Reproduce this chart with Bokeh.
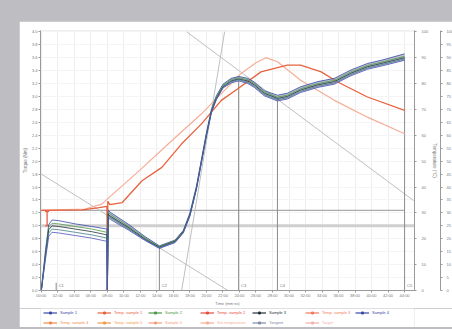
from bokeh.plotting import figure
from bokeh.layouts import column
from bokeh.models import Range1d, LinearAxis, FixedTicker, Legend, LegendItem, PrintfTickFormatter
from bokeh.core.properties import value
from bokeh.embed import file_html
from bokeh.resources import INLINE

# ---------------- data ----------------
time_min = [0, 0.5, 0.9, 1.3, 2.1, 4.1, 6.1, 7.95, 8.0, 8.1, 8.35, 10.6, 12.6, 14.3, 16.2, 17.2,
            18.0, 18.8, 19.4, 20.0, 20.6, 21.2, 22.0, 23.0, 23.9, 25.0, 25.8, 27.0, 28.6, 29.8,
            31.4, 33.5, 35.5, 37.5, 39.5, 41.5, 44.0]
torque_s1 = [0, 0.62, 1.02, 1.09, 1.08, 1.03, 0.99, 0.95, 0, 1.24, 1.21, 1.02, 0.83, 0.69, 0.78, 0.93,
             1.20, 1.62, 2.03, 2.44, 2.80, 3.01, 3.19, 3.28, 3.31, 3.28, 3.22, 3.09, 3.02, 3.05,
             3.15, 3.23, 3.28, 3.41, 3.51, 3.57, 3.66]
torque_s2 = [0, 0.58, 0.98, 1.04, 1.03, 0.99, 0.95, 0.90, 0, 1.21, 1.18, 0.99, 0.81, 0.68, 0.77, 0.92,
             1.18, 1.60, 2.01, 2.42, 2.78, 2.99, 3.17, 3.26, 3.29, 3.26, 3.20, 3.07, 2.99, 3.02,
             3.12, 3.20, 3.25, 3.38, 3.48, 3.54, 3.62]
torque_s3 = [0, 0.55, 0.94, 1.00, 0.99, 0.95, 0.91, 0.86, 0, 1.18, 1.15, 0.97, 0.79, 0.67, 0.76, 0.91,
             1.17, 1.59, 2.00, 2.41, 2.77, 2.97, 3.15, 3.24, 3.27, 3.24, 3.18, 3.05, 2.97, 3.00,
             3.10, 3.18, 3.23, 3.36, 3.46, 3.52, 3.60]
torque_s4 = [0, 0.52, 0.89, 0.95, 0.94, 0.90, 0.86, 0.81, 0, 1.15, 1.13, 0.95, 0.78, 0.66, 0.75, 0.90,
             1.16, 1.58, 1.99, 2.40, 2.76, 2.96, 3.14, 3.23, 3.26, 3.22, 3.16, 3.03, 2.95, 2.98,
             3.08, 3.16, 3.21, 3.34, 3.44, 3.50, 3.58]
torque_s5 = [0, 0.48, 0.84, 0.90, 0.89, 0.85, 0.81, 0.76, 0, 1.12, 1.10, 0.93, 0.77, 0.65, 0.74, 0.89,
             1.15, 1.57, 1.98, 2.39, 2.75, 2.95, 3.13, 3.21, 3.24, 3.20, 3.14, 3.01, 2.93, 2.96,
             3.06, 3.14, 3.19, 3.32, 3.42, 3.48, 3.56]

temp_time = [0, 5.0, 7.0, 7.95, 8.0, 8.05, 8.3, 9.8, 12.2, 14.6, 17.0, 19.4, 21.8, 23.8, 26.6,
             29.8, 31.4, 33.9, 35.9, 39.5, 44.0]
temp_dough = [31.0, 31.2, 32.0, 32.5, 0, 34.5, 33.2, 34.0, 42.4, 47.6, 56.7, 64.4, 73.5, 78.0, 84.5,
              87.1, 87.1, 84.5, 80.6, 74.8, 69.6]

set_time = [0, 5.3, 7.3, 11.4, 15.4, 19.4, 21.8, 24.2, 26.0, 27.2, 28.6, 31.4, 35.5, 39.5, 44.0]
set_temp = [31.0, 31.5, 33.4, 45.0, 56.7, 68.3, 76.1, 83.9, 88.0, 90.0, 88.4, 81.3, 73.5, 67.0, 60.6]

# tangent lines (time, torque) pairs
tangent1_t = [0.0, 22.6]
tangent1_v = [1.80, 0.0]
tangent2_t = [17.6, 45.1]
tangent2_v = [4.0, 1.39]
tangent3_t = [22.2, 17.0]
tangent3_v = [4.0, 0.0]

target_line = 1.24
target_band = 1.00

point_names = ["C1", "C2", "C3", "C4", "C5"]
point_time = [1.8, 14.3, 23.9, 28.6, 44.0]
point_torque = [0.12, 0.67, 3.28, 2.98, 3.60]

x_ticks = [0, 2, 4, 6, 8, 10, 12, 14, 16, 18, 20, 22, 24, 26, 28, 30, 32, 34, 36, 38, 40, 42, 44]
x_labels = ["00:00", "02:00", "04:00", "06:00", "08:00", "10:00", "12:00", "14:00", "16:00",
            "18:00", "20:00", "22:00", "24:00", "26:00", "28:00", "30:00", "32:00", "34:00",
            "36:00", "38:00", "40:00", "42:00", "44:00"]
y_ticks = [0.0, 0.2, 0.4, 0.6, 0.8, 1.0, 1.2, 1.4, 1.6, 1.8, 2.0, 2.2, 2.4, 2.6, 2.8, 3.0, 3.2,
           3.4, 3.6, 3.8, 4.0]
temp_ticks = [0, 10, 20, 30, 40, 50, 60, 70, 80, 90, 100]
temp2_ticks = [0, 5, 10, 15, 20, 25, 30, 35, 40, 45, 50, 55, 60, 65, 70, 75, 80, 85, 90, 95, 100]

legend_labels = ["Sample 1", "Temp. sample 1", "Sample 2", "Temp. sample 2", "Sample 3",
                 "Temp. sample 3", "Sample 4", "Temp. sample 4", "Temp. sample 5", "Sample 5",
                 "Set temperature", "Tangent", "Target"]
legend_colors = ["#3a49a6", "#e8623e", "#4b9a4b", "#e74c3c", "#263238", "#f07a5a", "#3a49a6",
                 "#f08a4b", "#f2994a", "#f0a080", "#f6ad98", "#7f8aa8", "#f4b0b0"]

# ---------------- main figure ----------------
FONT = "Liberation Sans"
p = figure(frame_width=374, frame_height=260, output_backend="svg", toolbar_location=None,
           x_range=Range1d(-0.1, 45.2), y_range=Range1d(0, 4.02),
           min_border_left=21, min_border_top=9, min_border_right=44, min_border_bottom=18)
p.extra_y_ranges = {"temp": Range1d(0, 100.5), "temp2": Range1d(0, 100.5)}
p.outline_line_color = None
p.background_fill_color = "white"
p.border_fill_color = "white"

def style_axis(ax):
    ax.axis_line_color = "#9a9a9a"
    ax.major_tick_line_color = "#9a9a9a"
    ax.minor_tick_line_color = None
    ax.major_tick_out = 2
    ax.major_tick_in = 0
    ax.major_label_text_font_size = "4px"
    ax.major_label_text_color = "#777777"
    ax.major_label_text_font = FONT
    ax.major_label_standoff = 1
    ax.axis_label_text_font_size = "4.5px"
    ax.axis_label_text_font_style = "normal"
    ax.axis_label_text_color = "#777777"
    ax.axis_label_text_font = FONT
    ax.axis_label_standoff = 1

xa = p.xaxis[0]
xa.ticker = FixedTicker(ticks=x_ticks)
xa.major_label_overrides = {t: l for t, l in zip(x_ticks, x_labels)}
xa.axis_label = "Time (mm:ss)"
style_axis(xa)
xa.major_label_standoff = 0
xa.axis_label_standoff = 0
xa.axis_label_text_font_size = "4px"

ya = p.yaxis[0]
ya.ticker = FixedTicker(ticks=y_ticks)
ya.formatter = PrintfTickFormatter(format="%.1f")
ya.axis_label = "Torque (Nm)"
style_axis(ya)

ra1 = LinearAxis(y_range_name="temp", ticker=FixedTicker(ticks=temp_ticks),
                 axis_label="Temperature (°C)")
style_axis(ra1)
ra1.major_label_standoff = 5
p.add_layout(ra1, "right")
ra2 = LinearAxis(y_range_name="temp2", ticker=FixedTicker(ticks=temp2_ticks),
                 axis_label="Temperature (°C)")
style_axis(ra2)
ra2.major_label_standoff = 4
ra2.axis_label_standoff = 6
p.add_layout(ra2, "right")

p.xgrid.ticker = FixedTicker(ticks=x_ticks)
p.xgrid.grid_line_color = "#eeeeee"
p.ygrid.ticker = FixedTicker(ticks=y_ticks)
p.ygrid.grid_line_color = "#f4f4f4"

# reference lines
p.line([0, 45.2], [target_band, target_band], line_color="#cfcfcf", line_width=3)
p.line([0, 44], [target_line, target_line], line_color="#8a8a8a", line_width=0.9)
p.line(tangent1_t, tangent1_v, line_color="#b8b8b8", line_width=0.9)
p.line(tangent2_t, tangent2_v, line_color="#b8b8b8", line_width=0.9)
p.line(tangent3_t, tangent3_v, line_color="#b8b8b8", line_width=0.9)

for t, v in zip(point_time, point_torque):
    p.line([t, t], [0, v], line_color="#8c8c8c", line_width=1)
p.text([t + 0.3 for t in point_time], [0.04 for _ in point_time], text=point_names,
       text_font_size="4px", text_color="#777777", text_font=value(FONT),
       text_baseline="bottom")

# red tolerance marker
p.line([0.7, 0.7], [1.00, 1.22], line_color="#e8503a", line_width=1.2)
p.line([0.45, 0.95], [1.22, 1.22], line_color="#e8503a", line_width=1.0)
p.line([0.45, 0.95], [1.00, 1.00], line_color="#e8503a", line_width=1.0)

# temperatures
p.line(set_time, set_temp, y_range_name="temp", line_color="#f6ad98", line_width=1.2)
p.line(temp_time, temp_dough, y_range_name="temp", line_color="#e8623e", line_width=1.3)

# ribbon of torque curves
ribbon_start = 9
p.varea(x=time_min[ribbon_start:], y1=torque_s5[ribbon_start:], y2=torque_s1[ribbon_start:],
        fill_color="#8d96b0", fill_alpha=0.6)

colors = ["#3a49a6", "#4b9a4b", "#263238", "#3d7c86", "#5252bb"]
torque_sets = [torque_s1, torque_s2, torque_s3, torque_s4, torque_s5]
for vals, c in zip(torque_sets, colors):
    p.line(time_min, vals, line_color=c, line_width=0.8)

# ---------------- legend strip ----------------
# ranges lie away from the data so the proxy renderers only show inside the legend
lf = figure(frame_width=374, frame_height=19, output_backend="svg", toolbar_location=None,
            x_range=Range1d(-100, -99), y_range=Range1d(-100, -99),
            x_axis_type=None, y_axis_type=None,
            min_border_left=21, min_border_right=44, min_border_top=0, min_border_bottom=0)
lf.outline_line_color = None
lf.grid.visible = False
lf.border_fill_color = "white"
lf.background_fill_color = "white"

legend_series = [(time_min, torque_s1), (temp_time, temp_dough), (time_min, torque_s2),
                 (temp_time, temp_dough), (time_min, torque_s3), (temp_time, temp_dough),
                 (time_min, torque_s4), (temp_time, temp_dough), (temp_time, temp_dough),
                 (time_min, torque_s5), (set_time, set_temp), (tangent1_t, tangent1_v),
                 (point_time, point_torque)]

col_x = [3, 57, 108, 160, 212, 265, 315]
row_y = [12, 2]
for i, (lab, c, (xs, ys)) in enumerate(zip(legend_labels, legend_colors, legend_series)):
    row = i // 7
    col = i % 7
    rl = lf.line(xs, ys, line_color=c, line_width=1.2)
    rs = lf.scatter(xs, ys, marker="square", size=2.5, fill_color=c, line_color=c)
    lg = Legend(items=[LegendItem(label=lab, renderers=[rl, rs], index=0)],
                location=(col_x[col], row_y[row]),
                label_text_font_size="4px", label_text_color=c, label_text_font=FONT,
                label_height=5, glyph_height=5, glyph_width=14, label_standoff=3,
                padding=0, margin=0, spacing=0, border_line_color=None,
                background_fill_alpha=0)
    lf.add_layout(lg, "center")

layout = column(p, lf, spacing=0)

html = file_html(layout, INLINE)
html = html.replace("<head>", "<head><style>html, body {background:#bebdc2; overflow:hidden;} body {margin:21px 0 0 19px !important;}</style>", 1)
open("out.html", "w").write(html)
